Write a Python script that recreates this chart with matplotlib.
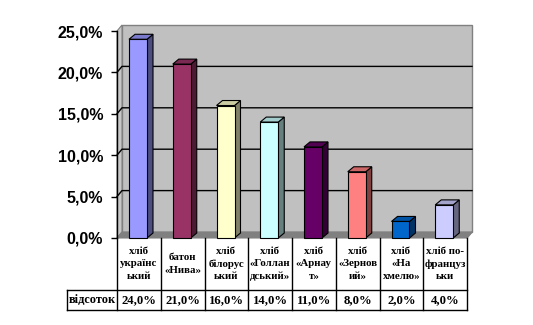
import matplotlib.pyplot as plt
from matplotlib.patches import Polygon
from matplotlib.ticker import FuncFormatter

# Дані
categories = ["хліб\nукраїнс\nький", "батон\n«Нива»", "хліб\nбілорус\nький", "хліб\n«Голлан\nдський»",
              "хліб\n«Арнау\nт»", "хліб\n«Зернов\nий»", "хліб\n«На\nхмелю»", "хліб по-\nфранцуз\nьки"]
values = [24.0, 21.0, 16.0, 14.0, 11.0, 8.0, 2.0, 4.0]
value_labels = ["24,0%", "21,0%", "16,0%", "14,0%", "11,0%", "8,0%", "2,0%", "4,0%"]
row_label = "відсоток"
y_ticks = [0, 5, 10, 15, 20, 25]

front_colors = ["#9999FF", "#993366", "#FFFFCC", "#CCFFFF", "#660066", "#FF8080", "#0066CC", "#CCCCFF"]

W, H = 533, 325
fig = plt.figure(figsize=(W / 100, H / 100), dpi=100)
ax_l, ax_r, ax_b, ax_t = 117, 467, 238, 31
ax = fig.add_axes([ax_l / W, 1 - ax_b / H, (ax_r - ax_l) / W, (ax_b - ax_t) / H])
n = len(values)
ax.set_xlim(0, n)
ax.set_ylim(0, 25)

# перевід пікселів у одиниці даних
ux = n / (ax_r - ax_l)
uy = 25 / (ax_b - ax_t)


def shade(c, k):
    c = c.lstrip("#")
    r, g, b = (int(c[i:i + 2], 16) for i in (0, 2, 4))
    return (r * k / 255, g * k / 255, b * k / 255)


# стіни та підлога
wdx, wdy = 5 * ux, 6 * uy
ax.add_patch(Polygon([(wdx, wdy), (n + wdx, wdy), (n + wdx, 25 + wdy), (wdx, 25 + wdy)],
                     closed=True, fc="#C0C0C0", ec="#808080", lw=1, clip_on=False, zorder=1))
ax.add_patch(Polygon([(0, 0), (wdx, wdy), (wdx, 25 + wdy), (0, 25)],
                     closed=True, fc="#C8C8C8", ec="#808080", lw=0.8, clip_on=False, zorder=1))
ax.add_patch(Polygon([(0, 0), (n, 0), (n + wdx, wdy), (wdx, wdy)],
                     closed=True, fc="#808080", ec="#808080", lw=0.8, clip_on=False, zorder=1))
for t in y_ticks[1:-1]:
    ax.plot([0, wdx, n + wdx], [t, t + wdy, t + wdy], color="black", lw=1, clip_on=False, zorder=2)

# стовпчики
bw = 18 * ux
bdx, bdy = 6 * ux, 5 * uy
for i, (v, c) in enumerate(zip(values, front_colors)):
    x0 = i + 12 * ux
    x1 = x0 + bw
    ax.add_patch(Polygon([(x1, 0), (x1 + bdx, bdy), (x1 + bdx, v + bdy), (x1, v)],
                         closed=True, fc=shade(c, 0.5), ec="black", lw=0.8, clip_on=False, zorder=3))
    ax.add_patch(Polygon([(x0, v), (x1, v), (x1 + bdx, v + bdy), (x0 + bdx, v + bdy)],
                         closed=True, fc=shade(c, 0.8), ec="black", lw=0.8, clip_on=False, zorder=3))
    ax.add_patch(Polygon([(x0, 0), (x1, 0), (x1, v), (x0, v)],
                         closed=True, fc=c, ec="black", lw=0.8, clip_on=False, zorder=4))

# вісь Y
for s in ["top", "right", "bottom"]:
    ax.spines[s].set_visible(False)
ax.spines["left"].set_linewidth(1)
ax.set_xticks([])
ax.set_yticks(y_ticks)
ax.yaxis.set_major_formatter(FuncFormatter(lambda v, p: f"{v:.1f}".replace(".", ",") + "%"))
ax.tick_params(axis="y", length=4, width=1, pad=6)
for lab in ax.get_yticklabels():
    lab.set_fontfamily("Liberation Sans")
    lab.set_fontweight("bold")
    lab.set_fontsize(11.5)

# таблиця даних
y_mid = -(290 - ax_b) * uy
y_bot = -(310 - ax_b) * uy
x_hdr = -(ax_l - 67) * ux
lk = dict(color="black", lw=1, clip_on=False, zorder=5)
for i in range(n + 1):
    ax.plot([i, i], [0, y_bot], **lk)
ax.plot([x_hdr, n], [y_mid, y_mid], **lk)
ax.plot([x_hdr, n], [y_bot, y_bot], **lk)
ax.plot([x_hdr, x_hdr], [y_mid, y_bot], **lk)
ax.plot([n, n + wdx], [0, wdy], color="#808080", lw=1, clip_on=False)

tk = dict(fontfamily="Liberation Serif", fontweight="bold", ha="center", va="center", clip_on=False)
for i, (cat, vl) in enumerate(zip(categories, value_labels)):
    ax.text(i + 0.5, y_mid / 2, cat, linespacing=1.45, fontsize=7.8, **tk)
    ax.text(i + 0.5, (y_mid + y_bot) / 2, vl, fontsize=9.2, **tk)
ax.text(x_hdr / 2, (y_mid + y_bot) / 2, row_label, fontsize=8.8, **tk)

fig.savefig("out.png", dpi=100)
